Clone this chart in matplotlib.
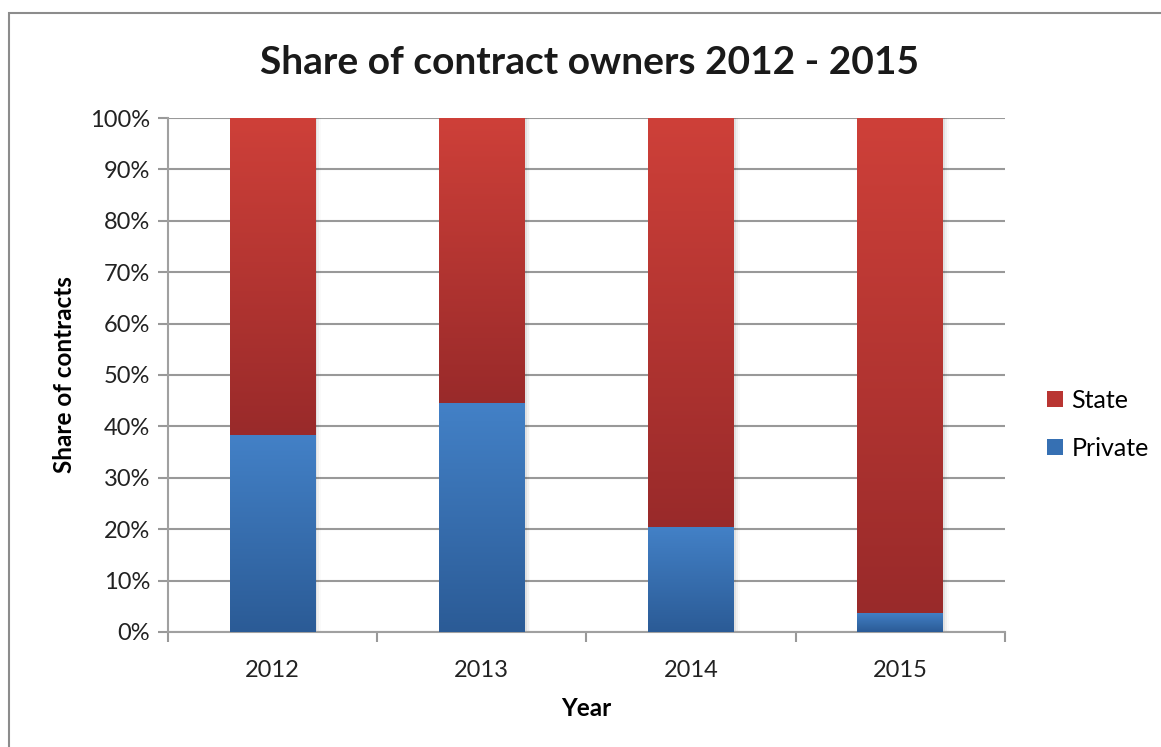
import matplotlib.pyplot as plt
import numpy as np
from matplotlib.colors import LinearSegmentedColormap
from matplotlib.patches import Rectangle

plt.rcParams['font.family'] = ['Lato', 'DejaVu Sans']

years = ['2012', '2013', '2014', '2015']
private = [0.384, 0.446, 0.205, 0.037]
state = [1 - p for p in private]
ytick_labels = ['0%', '10%', '20%', '30%', '40%', '50%', '60%', '70%', '80%', '90%', '100%']

red_top, red_bottom = '#CE4039', '#992A2A'
blue_top, blue_bottom = '#4381C7', '#2B5B96'


def gradient_bar(ax, x, bottom, height, width, top_color, bottom_color):
    cmap = LinearSegmentedColormap.from_list('g', [bottom_color, top_color])
    # soft shadow on the right side
    for k, a in enumerate([0.06, 0.04, 0.02]):
        sh = Rectangle((x - width / 2 + 0.005 * (k + 1), bottom), width + 0.004 * (k + 1), height,
                       facecolor='black', alpha=a, edgecolor='none', zorder=2)
        ax.add_patch(sh)
    rect = Rectangle((x - width / 2, bottom), width, height, facecolor='none',
                     edgecolor='none', zorder=3)
    ax.add_patch(rect)
    grad = np.linspace(0, 1, 256).reshape(-1, 1)
    im = ax.imshow(grad, cmap=cmap, origin='lower', aspect='auto',
                   extent=[x - width / 2, x + width / 2, bottom, bottom + height],
                   zorder=3, interpolation='bilinear')
    im.set_clip_path(rect)


fig = plt.figure(figsize=(11.61, 7.47), dpi=100)
ax = fig.add_axes([0.1447, 0.154, 0.8656 - 0.1447, 0.842 - 0.154])

# chart border (only left and top edges are visible)
fig.patches.append(Rectangle((9 / 1161, -0.2), 1.5, 1.2 - 13 / 747,
                             transform=fig.transFigure, fill=False,
                             edgecolor='#8C8C8C', linewidth=1.5))

xs = np.arange(len(years))
w = 0.41
for i in range(len(years)):
    gradient_bar(ax, xs[i], 0, private[i], w, blue_top, blue_bottom)
    gradient_bar(ax, xs[i], private[i], state[i], w, red_top, red_bottom)

ax.set_xlim(-0.5, len(years) - 0.5)
ax.set_ylim(0, 1)
ax.set_yticks(np.linspace(0, 1, 11))
ax.set_yticklabels(ytick_labels, fontsize=17, color='#222222')
ax.set_xticks(xs)
ax.set_xticklabels(years, fontsize=17, color='#222222')
ax.set_xticks(np.arange(-0.5, len(years), 1), minor=True)
ax.tick_params(axis='x', which='major', length=0, pad=20)
ax.tick_params(axis='x', which='minor', length=7, color='#999999', width=1.5, direction='out')
ax.tick_params(axis='y', length=7, color='#999999', width=1.5, direction='out', pad=6)
ax.yaxis.grid(True, color='#999999', linewidth=1.5, zorder=0)
ax.set_axisbelow(True)
for s in ['top', 'right']:
    ax.spines[s].set_visible(False)
for s in ['left', 'bottom']:
    ax.spines[s].set_color('#A0A0A0')
    ax.spines[s].set_linewidth(1.5)

ax.set_ylabel('Share of contracts', fontsize=17.5, fontweight='bold', labelpad=10)
ax.set_xlabel('Year', fontsize=17.5, fontweight='bold', labelpad=12)
fig.text(0.508, 0.916, 'Share of contract owners 2012 - 2015', ha='center', va='center',
         fontsize=28, fontweight='bold', color='#1a1a1a')

# legend
handles = [Rectangle((0, 0), 1, 1, facecolor='#B93532'), Rectangle((0, 0), 1, 1, facecolor='#3670B3')]
leg = fig.legend(handles, ['State', 'Private'], loc='center left', bbox_to_anchor=(0.882, 0.432),
                 frameon=False, fontsize=18, handlelength=0.65, handleheight=0.65,
                 labelspacing=1.0, handletextpad=0.35)

fig.savefig('out.png', dpi=100)
